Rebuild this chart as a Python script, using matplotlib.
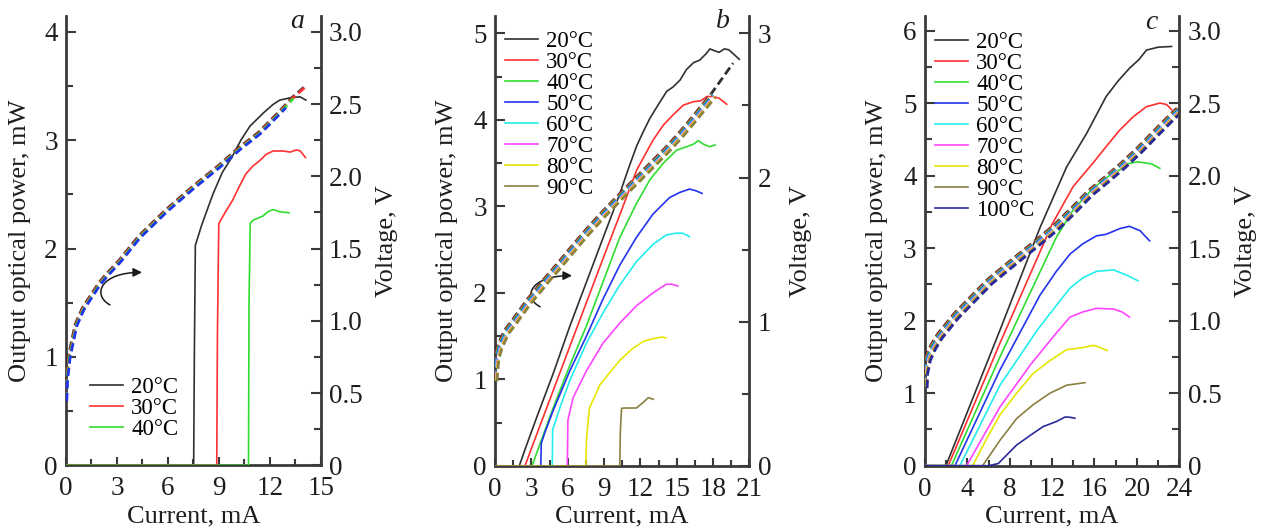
import numpy as np
import matplotlib
matplotlib.use('Agg')
import matplotlib.pyplot as plt
from matplotlib.path import Path
from matplotlib.patches import FancyArrowPatch
import matplotlib.transforms as mtransforms
from matplotlib.ticker import MultipleLocator, FuncFormatter

plt.rcParams['font.family'] = ['Liberation Serif', 'DejaVu Serif']
plt.rcParams['lines.scale_dashes'] = False

# ---------------- data ----------------
temps = ['20°C', '30°C', '40°C', '50°C', '60°C', '70°C', '80°C', '90°C', '100°C']
colors = ['#303030', '#ff3030', '#30dd30', '#2233ee', '#22eeee',
          '#ff44ff', '#e6e600', '#8a8040', '#2a2a9a']

# panel a: light-current (mW) vs current (mA)
a20_x = [0, 7.52, 7.56, 7.62, 8.0, 8.65, 9.2, 9.76, 10.3, 10.84, 11.62, 12.2, 12.6, 13.19, 13.78, 14.13]
a20_y = [0, 0, 1.0, 2.03, 2.22, 2.50, 2.70, 2.84, 3.0, 3.13, 3.25, 3.33, 3.37, 3.39, 3.40, 3.37]
a30_x = [0, 8.88, 8.92, 9.0, 9.4, 9.83, 10.2, 10.6, 11.0, 11.4, 11.8, 12.2, 12.8, 13.2, 13.58, 13.8, 14.1]
a30_y = [0, 0, 1.2, 2.23, 2.34, 2.45, 2.57, 2.69, 2.76, 2.81, 2.87, 2.90, 2.90, 2.89, 2.91, 2.90, 2.84]
a40_x = [0, 10.75, 10.78, 10.85, 11.0, 11.3, 11.6, 11.9, 12.2, 12.58, 13.13]
a40_y = [0, 0, 1.5, 2.23, 2.26, 2.28, 2.30, 2.34, 2.36, 2.34, 2.33]
# panel a: voltage (V)
av_x = [0, 0.05, 0.2, 0.59, 1.0, 1.38, 2.0, 2.36, 3.15, 4.32, 5.9, 7.47, 9.04, 10.2, 11.4, 12.58, 12.9, 13.37, 14.06]
av_y = [0.45, 0.6, 0.755, 0.97, 1.08, 1.15, 1.26, 1.31, 1.41, 1.58, 1.76, 1.92, 2.07, 2.19, 2.30, 2.44, 2.48, 2.54, 2.61]
av_end = [14.06, 14.06, 13.37, 12.9]

# panel b
b20_x = [0, 2.0, 2.5, 3.43, 4.8, 6.18, 7.55, 8.92, 10.3, 11.0, 11.7, 12.3, 12.8, 13.5, 14.18, 14.7, 15.28, 15.8, 16.38, 16.9, 17.4, 17.75, 18.1, 18.5, 18.94, 19.3, 19.7, 20.17]
b20_y = [0, 0, 0.2, 0.557, 1.067, 1.616, 2.125, 2.635, 3.145, 3.43, 3.70, 3.88, 4.02, 4.18, 4.33, 4.38, 4.46, 4.58, 4.66, 4.69, 4.76, 4.82, 4.80, 4.78, 4.82, 4.81, 4.76, 4.70]
b30_x = [0, 2.47, 3.43, 4.8, 6.2, 7.55, 8.9, 10.3, 11.7, 12.4, 13.07, 13.9, 14.72, 15.55, 16.38, 17.0, 17.5, 18.03, 18.5, 19.13]
b30_y = [0, 0, 0.36, 0.87, 1.39, 1.89, 2.39, 2.90, 3.42, 3.60, 3.77, 3.94, 4.06, 4.17, 4.21, 4.22, 4.27, 4.27, 4.25, 4.18]
b40_x = [0, 3.05, 4.8, 6.2, 7.55, 8.9, 10.3, 11.67, 12.8, 13.9, 15.0, 15.83, 16.4, 16.79, 17.2, 17.7, 18.17]
b40_y = [0, 0, 0.67, 1.17, 1.62, 2.12, 2.64, 3.03, 3.31, 3.50, 3.65, 3.69, 3.72, 3.76, 3.72, 3.69, 3.71]
b50_x = [0, 3.78, 3.82, 4.1, 4.8, 6.18, 7.55, 8.92, 10.3, 11.67, 13.04, 14.4, 15.23, 16.06, 16.6, 17.1]
b50_y = [0, 0, 0.26, 0.38, 0.64, 1.1, 1.5, 1.93, 2.32, 2.64, 2.91, 3.1, 3.16, 3.2, 3.18, 3.15]
b60_x = [0, 4.73, 4.76, 5.35, 6.18, 7.55, 8.92, 10.3, 11.67, 13.04, 14.14, 14.96, 15.5, 16.06]
b60_y = [0, 0, 0.42, 0.67, 0.99, 1.42, 1.77, 2.09, 2.36, 2.56, 2.67, 2.69, 2.69, 2.65]
b70_x = [0, 5.97, 6.02, 6.45, 7.55, 8.92, 10.3, 11.67, 13.04, 14.14, 14.6, 15.1]
b70_y = [0, 0, 0.53, 0.79, 1.1, 1.42, 1.65, 1.85, 2.0, 2.1, 2.1, 2.08]
b80_x = [0, 7.5, 7.55, 7.79, 8.67, 10.3, 11.3, 12.25, 13.0, 13.76, 14.1]
b80_y = [0, 0, 0.3, 0.667, 0.94, 1.22, 1.35, 1.44, 1.47, 1.49, 1.48]
b90_x = [0, 10.3, 10.35, 10.45, 10.84, 11.67, 12.2, 12.66, 13.07]
b90_y = [0, 0, 0.4, 0.667, 0.67, 0.67, 0.73, 0.79, 0.77]
bv_x = [0, 0.15, 0.41, 0.96, 1.51, 2.2, 2.89, 3.6, 4.27, 5.2, 6.19, 7.5, 8.9, 10.87, 12.53, 14.18, 15.28, 16.38, 18.03, 19.82]
bv_y = [0.6, 0.75, 0.83, 0.93, 0.99, 1.07, 1.15, 1.22, 1.29, 1.38, 1.48, 1.61, 1.74, 1.91, 2.05, 2.19, 2.29, 2.40, 2.57, 2.78]
bv_end = [19.82, 18.03, 18.03, 18.03, 18.03, 18.03, 18.03, 18.03]

# panel c
c20_x = [0, 1.98, 7.08, 10.85, 13.37, 15.25, 17.1, 18.2, 19.3, 20.2, 20.9, 22.0, 23.27]
c20_y = [0, 0, 1.87, 3.28, 4.12, 4.58, 5.09, 5.30, 5.48, 5.60, 5.73, 5.77, 5.78]
c30_x = [0, 2.2, 7.08, 12.0, 13.99, 15.9, 17.1, 18.4, 19.65, 20.9, 22.17, 22.8, 23.27]
c30_y = [0, 0, 1.69, 3.33, 3.85, 4.18, 4.40, 4.63, 4.81, 4.95, 5.0, 4.98, 4.91]
c40_x = [0, 2.5, 7.08, 12.4, 14.0, 15.9, 17.77, 18.4, 19.0, 20.1, 21.4, 22.17]
c40_y = [0, 0, 1.50, 3.15, 3.53, 3.83, 4.04, 4.08, 4.16, 4.19, 4.16, 4.10]
c50_x = [0, 2.83, 7.08, 10.85, 12.4, 13.7, 14.9, 16.2, 17.1, 18.4, 19.3, 20.3, 21.2]
c50_y = [0, 0, 1.32, 2.35, 2.68, 2.92, 3.06, 3.17, 3.19, 3.27, 3.30, 3.24, 3.10]
c60_x = [0, 3.3, 7.08, 10.6, 12.4, 13.7, 14.9, 16.2, 17.8, 19.0, 20.1]
c60_y = [0, 0, 1.11, 1.87, 2.21, 2.45, 2.59, 2.68, 2.70, 2.63, 2.55]
c70_x = [0, 3.93, 7.08, 10.0, 12.4, 13.7, 14.9, 16.2, 17.8, 18.6, 19.3]
c70_y = [0, 0, 0.81, 1.40, 1.83, 2.05, 2.12, 2.17, 2.16, 2.12, 2.05]
c80_x = [0, 4.5, 6.0, 7.08, 8.65, 10.2, 11.8, 13.37, 14.94, 15.9, 16.5, 17.2]
c80_y = [0, 0, 0.42, 0.70, 1.0, 1.27, 1.45, 1.60, 1.63, 1.66, 1.63, 1.59]
c90_x = [0, 5.44, 7.08, 8.65, 10.2, 11.8, 13.37, 15.1]
c90_y = [0, 0, 0.35, 0.65, 0.84, 1.0, 1.11, 1.145]
c100_x = [0, 6.0, 6.92, 8.65, 10.2, 11.16, 12.42, 13.2, 13.6, 14.15]
c100_y = [0, 0, 0.03, 0.285, 0.445, 0.54, 0.61, 0.67, 0.67, 0.655]
cv_x = [0, 0.05, 0.3, 0.79, 1.42, 2.99, 4.56, 6.13, 7.7, 9.28, 10.85, 12.4, 14.0, 15.6, 17.1, 18.7, 20.3, 21.9, 23.4, 24.0]
cv_y = [0.55, 0.65, 0.74, 0.82, 0.895, 1.036, 1.153, 1.27, 1.364, 1.458, 1.55, 1.645, 1.76, 1.88, 1.97, 2.07, 2.18, 2.30, 2.41, 2.45]
cv_end = [24.0] * 9

panels = [
    dict(rect=[0.0521, 0.1254, 0.2012, 0.8444],
         li=[(a20_x, a20_y), (a30_x, a30_y), (a40_x, a40_y)],
         vx=av_x, vy=av_y, vend=av_end, vcolors=[0, 1, 2, 3],
         xmax=15, xmaj=3, xmin=1.5, ytop=4.145, vscale=0.75, vmaj=0.5, vmin=0.25, vfmt='f1',
         letter='a', letter_pos=(0.906, 0.987),
         leg=(0.094, 0.196), ylab_l=-0.181, ylab_r=1.262,
         arrow=[(2.59, 1.48), (1.53, 1.57), (2.0, 1.78), (4.48, 1.78)]),
    dict(rect=[0.391, 0.1241, 0.2009, 0.8458],
         li=[(b20_x, b20_y), (b30_x, b30_y), (b40_x, b40_y), (b50_x, b50_y),
             (b60_x, b60_y), (b70_x, b70_y), (b80_x, b80_y), (b90_x, b90_y)],
         vx=bv_x, vy=bv_y, vend=bv_end, vcolors=list(range(8)),
         xmax=21, xmaj=3, xmin=1.5, ytop=5.2, vscale=0.6, vmaj=1, vmin=0.5, vfmt='int',
         letter='b', letter_pos=(0.895, 0.987),
         leg=(0.039, 0.967), ylab_l=-0.189, ylab_r=1.203,
         arrow=[(3.72, 1.84), (2.23, 1.95), (2.89, 2.2), (6.36, 2.2)]),
    dict(rect=[0.7306, 0.1246, 0.2009, 0.8453],
         li=[(c20_x, c20_y), (c30_x, c30_y), (c40_x, c40_y), (c50_x, c50_y),
             (c60_x, c60_y), (c70_x, c70_y), (c80_x, c80_y), (c90_x, c90_y),
             (c100_x, c100_y)],
         vx=cv_x, vy=cv_y, vend=cv_end, vcolors=list(range(9)),
         xmax=24, xmaj=4, xmin=2, ytop=6.2, vscale=0.5, vmaj=0.5, vmin=0.25, vfmt='f1',
         letter='c', letter_pos=(0.891, 0.985),
         leg=(0.039, 0.9655), ylab_l=-0.189, ylab_r=1.262,
         arrow=None),
]

fig = plt.figure(figsize=(12.66, 5.32), dpi=100)
spine_c = '#3a3a3a'
txt_c = '#1e1e1e'
TICK_FS = 19.5
LAB_FS = 19

for p in panels:
    ax = fig.add_axes(p['rect'])
    ax2 = ax.twinx()
    ax.set_xlim(0, p['xmax'])
    ax.set_ylim(0, p['ytop'])
    ax2.set_ylim(0, p['ytop'] * p['vscale'])

    # voltage curves (dashed, many colours, tiny screen offsets)
    vx = np.array(p['vx'])
    vy = np.array(p['vy'])
    n = len(p['vcolors'])
    for i, ci in enumerate(p['vcolors']):
        d = (i - (n - 1) / 2.0) * 0.55
        tr = mtransforms.offset_copy(ax2.transData, fig=fig, x=d, y=-d, units='dots')
        m = vx <= p['vend'][i] + 1e-9
        ax2.plot(vx[m], vy[m], color=colors[ci], lw=2.0, dashes=(6.0, 3.0),
                 transform=tr, zorder=2 + i * 0.01)

    # light-current curves
    handles = []
    for i, (xs, ys) in enumerate(p['li']):
        h, = ax.plot(xs, ys, color=colors[i], lw=1.2, zorder=3)
        handles.append(h)

    # arrow pointing to right axis
    if p['arrow'] is not None:
        path = Path(p['arrow'], [Path.MOVETO, Path.CURVE4, Path.CURVE4, Path.CURVE4])
        arr = FancyArrowPatch(path=path, arrowstyle='-|>', mutation_scale=13,
                              lw=1.1, color='#1a1a1a', transform=ax.transData)
        ax2.add_patch(arr)
        arr.set_transform(ax.transData)

    # legend
    ax2.legend(handles, temps[:len(handles)], loc='upper left',
               bbox_to_anchor=p['leg'], bbox_transform=ax.transAxes,
               frameon=False, fontsize=16.5, handlelength=1.45,
               handletextpad=0.35, labelspacing=0.0, borderpad=0,
               borderaxespad=0)

    # ticks
    ax.xaxis.set_major_locator(MultipleLocator(p['xmaj']))
    ax.xaxis.set_minor_locator(MultipleLocator(p['xmin']))
    ax.yaxis.set_major_locator(MultipleLocator(1))
    ax.yaxis.set_minor_locator(MultipleLocator(0.5))
    ax2.yaxis.set_major_locator(MultipleLocator(p['vmaj']))
    ax2.yaxis.set_minor_locator(MultipleLocator(p['vmin']))
    ax.xaxis.set_major_formatter(FuncFormatter(lambda v, pos: f'{v:.0f}'))
    ax.yaxis.set_major_formatter(FuncFormatter(lambda v, pos: f'{v:.0f}'))
    if p['vfmt'] == 'f1':
        ax2.yaxis.set_major_formatter(FuncFormatter(lambda v, pos: '0' if abs(v) < 1e-9 else f'{v:.1f}'))
    else:
        ax2.yaxis.set_major_formatter(FuncFormatter(lambda v, pos: f'{v:.0f}'))

    ax.tick_params(axis='y', which='major', direction='in', length=7, width=1.5,
                   labelsize=TICK_FS, pad=6, colors=spine_c, labelcolor=txt_c)
    ax.tick_params(axis='y', which='minor', direction='in', length=5, width=1.5, colors=spine_c)
    ax.tick_params(axis='x', which='major', direction='in', length=6, width=1.5,
                   labelsize=TICK_FS, pad=8, colors=spine_c, labelcolor=txt_c)
    ax.tick_params(axis='x', which='minor', direction='in', length=4, width=1.5, colors=spine_c)
    ax.tick_params(axis='y', which='both', right=False)
    ax.tick_params(axis='x', which='both', top=False)
    ax2.tick_params(axis='y', which='major', direction='in', length=7, width=1.5,
                    labelsize=TICK_FS, pad=6, colors=spine_c, labelcolor=txt_c)
    ax2.tick_params(axis='y', which='minor', direction='in', length=5, width=1.5, colors=spine_c)

    for s in ['top', 'right']:
        ax.spines[s].set_visible(False)
    for s in ['top', 'left', 'bottom']:
        ax2.spines[s].set_visible(False)
    for s in ['left', 'bottom']:
        ax.spines[s].set_linewidth(2.0)
        ax.spines[s].set_color(spine_c)
    ax2.spines['right'].set_linewidth(2.0)
    ax2.spines['right'].set_color(spine_c)

    # labels
    ax.set_xlabel('Current, mA', fontsize=LAB_FS, color=txt_c, va='center')
    ax.xaxis.set_label_coords(0.5, -0.113)
    ax.set_ylabel('Output optical power, mW', fontsize=LAB_FS, color=txt_c, va='center')
    ax.yaxis.set_label_coords(p['ylab_l'], 0.5)
    ax2.set_ylabel('Voltage, V', fontsize=LAB_FS, color=txt_c, va='center')
    ax2.yaxis.set_label_coords(p['ylab_r'], 0.5)

    ax.text(p['letter_pos'][0], p['letter_pos'][1], p['letter'], transform=ax.transAxes,
            fontsize=20, style='italic', ha='center', va='center', color=txt_c)

fig.savefig('out.png', dpi=100)
